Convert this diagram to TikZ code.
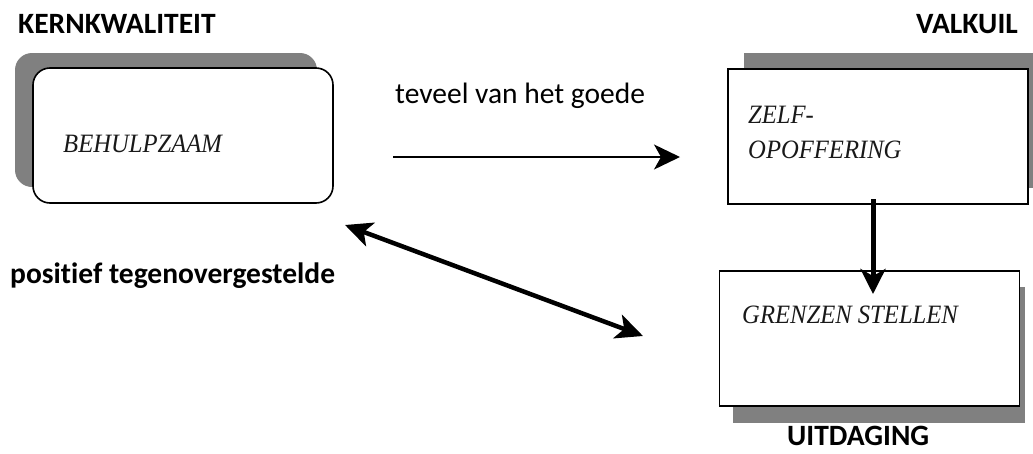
\documentclass[tikz,border=0pt]{standalone}
\usepackage{fontspec}
\setmainfont[Ligatures=NoCommon]{Carlito}
\newfontfamily\vakfont[FakeStretch=0.93]{Liberation Serif}
\usetikzlibrary{arrows.meta,positioning}

\begin{document}
\begin{tikzpicture}[x=1pt,y=-1pt,
	kop/.style={font=\fontsize{29.5}{32}\selectfont\bfseries, anchor=base west, inner sep=0pt},
	gewoon/.style={font=\fontsize{29.5}{32}\selectfont, anchor=base west, inner sep=0pt},
	vak/.style={draw, line width=1.6pt, fill=white, minimum width=300pt, minimum height=135pt, inner sep=0pt},
	schaduw/.style={fill=black!50},
	vaktekst/.style={font=\vakfont\itshape\fontsize{26.5}{30}\selectfont, text=black!90, anchor=base west, inner sep=0pt},
	pijl/.style={line width=1.6pt, -{Stealth[length=26pt,width=25pt,inset=7pt]}},
	dikpijl/.style={line width=5pt, -{Stealth[length=25pt,width=25pt,inset=7pt]}},
	dubbelpijl/.style={line width=4.5pt, {Stealth[length=27pt,width=25pt,inset=7pt]}-{Stealth[length=27pt,width=25pt,inset=7pt]}}
	]
	\useasboundingbox (0,0) rectangle (1033,453);
	
	% shadows
	\fill[schaduw, rounded corners=17pt] (15,53) rectangle (317,187);
	\fill[schaduw] (744,53) rectangle (1044,188);
	\fill[schaduw] (733,287) rectangle (1025,423);
	
	% boxes
	\node[vak, rounded corners=17pt] (kern) at (183,135.5) {};
	\node[vak] (valkuil) at (878,136.5) {};
	\node[vak] (uitdaging) at (869.5,338.5) {};
	
	% texts in the boxes
	\node[vaktekst] (kerntekst) at (63,152) {BEHULPZAAM};
	\node[vaktekst] (valkuiltekst1) at (748,123) {ZELF-};
	\node[vaktekst] (valkuiltekst2) at (748,158) {OPOFFERING};
	\node[vaktekst] (uitdagingtekst) at (742,323) {GRENZEN STELLEN};
	
	% titles
	\node[kop] (kernkop) at (18,33) {KERNKWALITEIT};
	\node[kop, anchor=base east] (valkuilkop) at (1018,33) {VALKUIL};
	\node[kop] (uitdagingkop) at (787,445) {UITDAGING};
	\node[kop] (tegenkop) at (10,283) {positief tegenovergestelde};
	\node[gewoon] (goedekop) at (395,103) {teveel van het goede};
	
	% arrow ends
	\coordinate (G1) at (393,157);
	\coordinate (G2) at (680,157);
	\coordinate (V1) at (873,199);
	\coordinate (V2) at (873,294);
	\coordinate (T1) at (345,225);
	\coordinate (T2) at (643,336);
	
	% arrows
	\draw[pijl] (G1) -- (G2);
	\draw[dikpijl] (V1) -- (V2);
	\draw[dubbelpijl] (T1) -- (T2);
\end{tikzpicture}
\end{document}
